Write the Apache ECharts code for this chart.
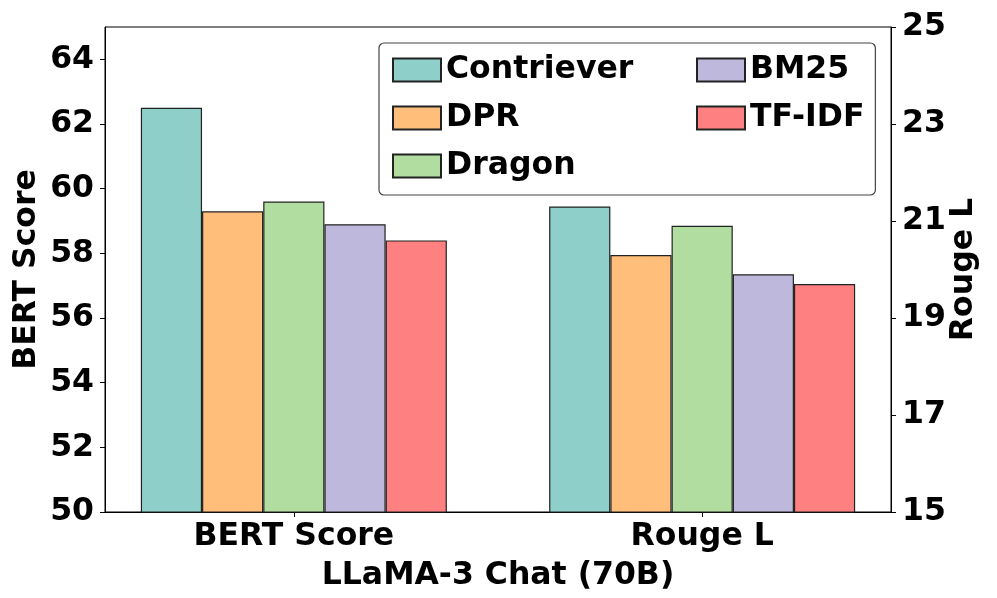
<!DOCTYPE html>
<html>
<head>
<meta charset="utf-8">
<script src="https://cdn.jsdelivr.net/npm/echarts@6/dist/echarts.min.js"></script>
<style>
html,body{margin:0;padding:0;background:#fff;}
#chart{width:997px;height:598px;}
</style>
</head>
<body>
<div id="chart"></div>
<script>
// ---- data ----
const categories = ['BERT Score', 'Rouge L'];
const methods = ['Contriever', 'DPR', 'Dragon', 'BM25', 'TF-IDF'];
const colors = ['#8ECFC9', '#FFBE7A', '#B1DDA0', '#BEB8DC', '#FF8080'];
const bertScore = [62.5, 59.3, 59.6, 58.9, 58.4];
const rougeL = [21.3, 20.3, 20.9, 19.9, 19.7];
const leftTicks = [50, 52, 54, 56, 58, 60, 62, 64];
const rightTicks = [15, 17, 19, 21, 23, 25];
const xTitle = 'LLaMA-3 Chat (70B)';
const leftTitle = 'BERT Score';
const rightTitle = 'Rouge L';

const FONT = 'DejaVu Sans';
const FS = 31.5;
const xIdx = categories.map((c, i) => i);

const chart = echarts.init(document.getElementById('chart'), null, {renderer: 'canvas'});

const series = [];
methods.forEach((m, i) => {
  series.push({
    name: m, type: 'bar', xAxisIndex: 0, yAxisIndex: 0,
    data: [[xIdx[0], bertScore[i]]],
    barWidth: 61.2, barGap: '0%',
    itemStyle: {color: colors[i], borderColor: '#222', borderWidth: 1.2},
    emphasis: {disabled: true}
  });
});
methods.forEach((m, i) => {
  series.push({
    name: m, type: 'bar', xAxisIndex: 1, yAxisIndex: 1,
    data: [[xIdx[1], rougeL[i]]],
    barWidth: 61.2, barGap: '0%',
    itemStyle: {color: colors[i], borderColor: '#222', borderWidth: 1.2},
    emphasis: {disabled: true}
  });
});

const txt = {fontFamily: FONT, fontWeight: 'bold', fontSize: FS, color: '#000'};
const legendText = Object.assign({}, txt, {lineHeight: 31});

const option = {
  animation: false,
  backgroundColor: '#fff',
  grid: {left: 105, right: 106, top: 27, bottom: 86, show: true, borderColor: '#000', borderWidth: 1, backgroundColor: 'transparent'},
  legend: [
    {
      data: methods.slice(0, 3), orient: 'vertical', left: 379, top: 43,
      padding: [11, 242, 13, 13], itemGap: 16, itemWidth: 48, itemHeight: 23,
      icon: 'rect', textStyle: legendText, selectedMode: false,
      backgroundColor: '#fff', borderColor: '#444', borderWidth: 1.2, borderRadius: 5, z: 3
    },
    {
      data: methods.slice(3), orient: 'vertical', left: 696, top: 54,
      padding: 0, itemGap: 16, itemWidth: 48, itemHeight: 23,
      icon: 'rect', textStyle: legendText, selectedMode: false, z: 4
    }
  ],
  xAxis: [
    {
      type: 'value', min: -0.4625, max: 1.4625,
      name: xTitle, nameLocation: 'middle', nameGap: 48,
      nameTextStyle: txt,
      axisLine: {show: true, onZero: false, lineStyle: {color: '#000', width: 1}},
      axisTick: {show: true, length: 5, customValues: xIdx, lineStyle: {color: '#000'}},
      axisLabel: Object.assign({
        customValues: xIdx, margin: 9,
        formatter: v => categories[Math.round(v)] || ''
      }, txt),
      splitLine: {show: false}
    },
    {
      type: 'value', min: -0.4625, max: 1.4625, show: false,
      axisLine: {onZero: false},
      splitLine: {show: false}
    }
  ],
  yAxis: [
    {
      type: 'value', min: 50, max: 65, interval: 2, position: 'left',
      name: leftTitle, nameLocation: 'middle', nameGap: 62, nameRotate: 90,
      nameMoveOverlap: false,
      nameTextStyle: txt,
      axisLine: {show: true, onZero: false, lineStyle: {color: '#000', width: 1}},
      axisTick: {show: true, length: 5, customValues: leftTicks, lineStyle: {color: '#000'}},
      axisLabel: Object.assign({customValues: leftTicks, margin: 11}, txt),
      splitLine: {show: false}
    },
    {
      type: 'value', min: 15, max: 25, interval: 2, position: 'right',
      name: rightTitle, nameLocation: 'middle', nameGap: 57, nameRotate: 90,
      nameMoveOverlap: false,
      nameTextStyle: txt,
      axisLine: {show: true, onZero: false, lineStyle: {color: '#000', width: 1}},
      axisTick: {show: true, length: 5, customValues: rightTicks, lineStyle: {color: '#000'}},
      axisLabel: Object.assign({customValues: rightTicks, margin: 11}, txt),
      splitLine: {show: false}
    }
  ],
  series: series
};
chart.setOption(option);
</script>
</body>
</html>
